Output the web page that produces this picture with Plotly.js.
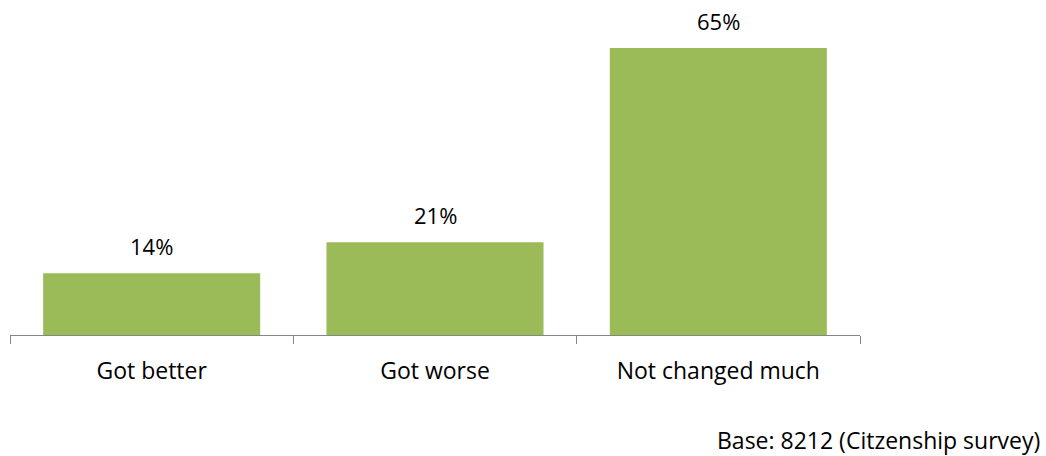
<!DOCTYPE html>
<html>
<head>
<meta charset="utf-8">
<script src="https://cdn.plot.ly/plotly-3.0.1.min.js"></script>
<style>html,body{margin:0;padding:0;background:#fff;}#chart{width:1046px;height:456px;}</style>
</head>
<body>
<div id="chart"></div>
<script>
var categories = ["Got better", "Got worse", "Not changed much"];
var values = [14, 21, 65];
var valueLabels = ["14%", "21%", "65%"];
var footnote = "Base: 8212 (Citzenship survey)";

var FONT = "Open Sans, Liberation Sans, sans-serif";

var trace = {
  type: "bar",
  x: categories,
  y: values,
  marker: {color: "#9BBB59"},
  hoverinfo: "skip"
};

var annotations = categories.map(function(c, i){
  return {x: c, y: values[i], xref: "x", yref: "y", text: valueLabels[i],
    showarrow: false, yanchor: "bottom", yshift: 10,
    font: {family: FONT, size: 22, color: "#000"}};
});
annotations.push({x: 1, y: 0, xref: "paper", yref: "paper", text: footnote,
  showarrow: false, xanchor: "right", yanchor: "bottom", xshift: 182, yshift: -123,
  font: {family: FONT, size: 23, color: "#000"}});

var layout = {
  width: 1046, height: 456,
  margin: {l: 10, r: 186, t: 26, b: 121},
  paper_bgcolor: "#fff", plot_bgcolor: "#fff",
  bargap: 0.234,
  showlegend: false,
  xaxis: {
    showline: true, linecolor: "#868686", linewidth: 1,
    ticks: "outside", ticklen: 8, tickcolor: "#868686",
    tickson: "boundaries",
    ticklabelstandoff: 15,
    tickfont: {family: FONT, size: 23, color: "#000"},
    showgrid: false, zeroline: false
  },
  yaxis: {
    range: [0, 70], visible: false, showgrid: false, zeroline: false, fixedrange: true
  },
  annotations: annotations
};

Plotly.newPlot("chart", [trace], layout, {displayModeBar: false, staticPlot: true});
</script>
</body>
</html>
